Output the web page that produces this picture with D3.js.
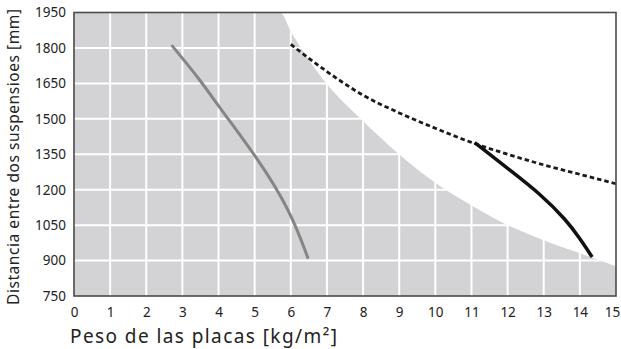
<!DOCTYPE html>
<html><head><meta charset="utf-8">
<script src="https://cdn.jsdelivr.net/npm/d3@7"></script>
<style>
body{margin:0;background:#fff;}
.tk text{font-family:"Noto Sans",sans-serif;}
</style></head><body>
<svg id="c" width="621" height="349"></svg>
<script>
const xTicks = d3.range(0, 16);
const yTicks = [750, 900, 1050, 1200, 1350, 1500, 1650, 1800, 1950];
// gray (admissible) area boundary
const areaX = [5.70, 6.02, 6.90, 7.91, 9.02, 10.01, 10.98, 12.0, 13.0, 14.0, 15.0];
const areaY = [1950, 1864, 1665, 1503, 1347, 1228, 1135, 1050, 986, 931, 876];
// gray curve
const grayX = [2.70, 3.49, 4.04, 5.05, 5.98, 6.48];
const grayY = [1812, 1665, 1545, 1340, 1114, 908];
// dashed curve
const dashX = [6, 7, 8, 9, 10, 11, 12, 13, 14, 15];
const dashY = [1815, 1700, 1600, 1525, 1460, 1400, 1350, 1305, 1265, 1225];
// black curve
const blackX = [11.09, 12.06, 12.89, 13.63, 14.0, 14.34];
const blackY = [1399, 1283, 1184, 1071, 993, 915];

const svg = d3.select("#c");
const L = 74, R = 616, T = 12.5, B = 296;
const x = d3.scaleLinear().domain([0, 15]).range([L, R]);
const y = d3.scaleLinear().domain([750, 1950]).range([B, T]);

const defs = svg.append("defs");
defs.append("clipPath").attr("id","clip")
  .append("rect").attr("x",L).attr("y",T).attr("width",R-L).attr("height",B-T);

const areaPts = [[0,1950]].concat(areaX.map((v,i)=>[v, areaY[i]]));
const area = d3.area().x(d=>x(d[0])).y0(B).y1(d=>y(d[1])).curve(d3.curveMonotoneX);
svg.append("g").attr("clip-path","url(#clip)")
  .append("path").attr("fill","#d3d3d5").attr("d", area(areaPts));

defs.append("clipPath").attr("id","clip2").append("path").attr("d", area(areaPts));
const gg = svg.append("g").attr("clip-path","url(#clip2)");
gg.selectAll(".vx").data(xTicks.slice(1,-1)).join("line")
  .attr("x1",d=>x(d)).attr("x2",d=>x(d)).attr("y1",T).attr("y2",B)
  .attr("stroke","#fff").attr("stroke-width",2);
gg.selectAll(".hy").data(yTicks.slice(1,-1)).join("line")
  .attr("x1",L).attr("x2",R).attr("y1",d=>y(d)).attr("y2",d=>y(d))
  .attr("stroke","#fff").attr("stroke-width",2);

const smooth = d3.line().x(d=>x(d[0])).y(d=>y(d[1])).curve(d3.curveBasis);
const mono = d3.line().x(d=>x(d[0])).y(d=>y(d[1])).curve(d3.curveMonotoneX);
svg.append("path").attr("d", smooth(grayX.map((v,i)=>[v,grayY[i]])))
  .attr("fill","none").attr("stroke","#858585").attr("stroke-width",3);
svg.append("path").attr("d", mono(dashX.map((v,i)=>[v,dashY[i]])))
  .attr("fill","none").attr("stroke","#1a1a1a").attr("stroke-width",2.8)
  .attr("stroke-dasharray","4.5,3");
svg.append("path").attr("d", smooth(blackX.map((v,i)=>[v,blackY[i]])))
  .attr("fill","none").attr("stroke","#111").attr("stroke-width",3.5);

svg.append("rect").attr("x",L).attr("y",T).attr("width",R-L).attr("height",B-T)
  .attr("fill","none").attr("stroke","#4a4a4a").attr("stroke-width",1.6);

const xa = d3.axisBottom(x).tickValues(xTicks).tickFormat(d3.format("d")).tickSize(0).tickPadding(11);
svg.append("g").attr("class","tk").attr("transform",`translate(0,${B})`).call(xa)
  .call(s=>s.select(".domain").remove())
  .selectAll("text").attr("font-size",13.5).attr("fill","#222")
  .attr("dx", d => d === 15 ? -4 : 0);
const ya = d3.axisLeft(y).tickValues(yTicks).tickFormat(d3.format("d")).tickSize(0).tickPadding(8);
svg.append("g").attr("class","tk").attr("transform",`translate(${L},0)`).call(ya)
  .call(s=>s.select(".domain").remove())
  .selectAll("text").attr("font-size",13.5).attr("fill","#222");

svg.append("text").attr("x",70).attr("y",343).attr("font-size",19).attr("fill","#222")
  .style("font-family",'"Noto Sans",sans-serif')
  .attr("textLength",267).attr("lengthAdjust","spacing")
  .text("Peso de las placas [kg/m²]");
svg.append("text").attr("transform","translate(19,157) rotate(-90)")
  .attr("text-anchor","middle").attr("font-size",15.5).attr("fill","#222")
  .style("font-family",'"Noto Sans",sans-serif')
  .attr("textLength",296).attr("lengthAdjust","spacing")
  .text("Distancia entre dos suspensioes [mm]");
</script></body></html>
